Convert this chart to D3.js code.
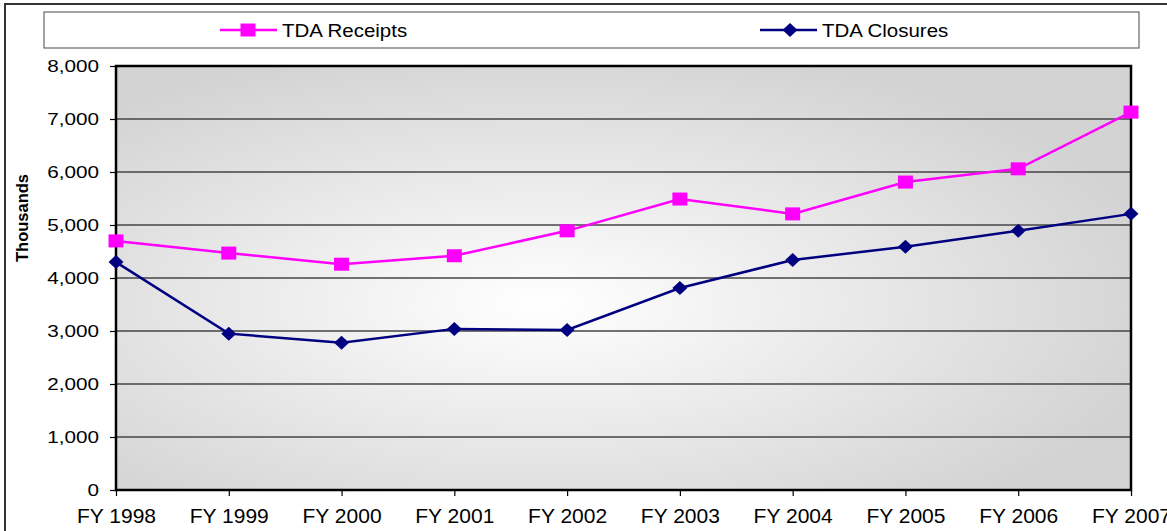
<!DOCTYPE html>
<html>
<head>
<meta charset="utf-8">
<script src="https://cdnjs.cloudflare.com/ajax/libs/d3/7.8.5/d3.min.js"></script>
<style>
  body { margin: 0; background: #fff; }
  svg { display: block; font-family: Arial, "Liberation Sans", sans-serif; }
</style>
</head>
<body>
<div id="chart"></div>
<script>
// chart values
var years = ["FY 1998", "FY 1999", "FY 2000", "FY 2001", "FY 2002",
             "FY 2003", "FY 2004", "FY 2005", "FY 2006", "FY 2007"];
var receipts = [4700, 4470, 4260, 4420, 4890, 5490, 5210, 5810, 6060, 7130];
var closures = [4300, 2950, 2780, 3040, 3020, 3810, 4340, 4590, 4890, 5210];
var yTicks = [0, 1000, 2000, 3000, 4000, 5000, 6000, 7000, 8000];
var seriesNames = ["TDA Receipts", "TDA Closures"];

var W = 1167, H = 531;
var margin = { left: 116, right: 36, top: 66, bottom: 41 },
    width = W - margin.left - margin.right,
    height = H - margin.top - margin.bottom;

var svg = d3.select("#chart").append("svg")
    .attr("width", W)
    .attr("height", H);

// outer chart border (runs off the right and bottom edge)
svg.append("rect")
    .attr("x", 5).attr("y", 4)
    .attr("width", 1300).attr("height", 700)
    .attr("fill", "#fff")
    .attr("stroke", "#333")
    .attr("stroke-width", 2);

// background gradient
var defs = svg.append("defs");
var grad = defs.append("radialGradient")
    .attr("id", "bg")
    .attr("cx", 0.42).attr("cy", 0.56)
    .attr("r", 0.62);
grad.append("stop").attr("offset", "0%").attr("stop-color", "#ffffff");
grad.append("stop").attr("offset", "100%").attr("stop-color", "#d3d3d3");

var g = svg.append("g")
    .attr("transform", "translate(" + margin.left + "," + margin.top + ")");

var x = d3.scalePoint()
    .domain(years)
    .range([0, width]);

var y = d3.scaleLinear()
    .domain([0, 8000])
    .range([height, 0]);

g.append("rect")
    .attr("width", width)
    .attr("height", height)
    .attr("fill", "url(#bg)");

// grid lines
g.selectAll(".grid")
    .data(yTicks.filter(function(d) { return d > 0; }))
    .enter().append("line")
      .attr("class", "grid")
      .attr("x1", 0).attr("x2", width)
      .attr("y1", function(d) { return y(d); })
      .attr("y2", function(d) { return y(d); })
      .attr("stroke", "#444")
      .attr("stroke-width", 1.5);

// plot border
g.append("rect")
    .attr("width", width)
    .attr("height", height)
    .attr("fill", "none")
    .attr("stroke", "#000")
    .attr("stroke-width", 2.5);

// y axis
var ySx = 1.27;
var yAxis = g.append("g")
    .call(d3.axisLeft(y).tickValues(yTicks).tickFormat(d3.format(",")).tickSize(6).tickPadding(11));
yAxis.select(".domain").remove();
yAxis.selectAll(".tick line").attr("stroke", "#000").attr("stroke-width", 1.2);
yAxis.selectAll(".tick text")
    .attr("fill", "#000")
    .style("font-size", "16.3px")
    .attr("x", -17 / ySx)
    .attr("transform", "scale(" + ySx + ",1)");

// x axis
var xSx = 1.09;
var xAxis = g.append("g")
    .attr("transform", "translate(0," + height + ")")
    .call(d3.axisBottom(x).tickSize(6).tickPadding(0));
xAxis.select(".domain").remove();
xAxis.selectAll(".tick line").attr("stroke", "#000").attr("stroke-width", 1.2);
xAxis.selectAll(".tick text")
    .attr("fill", "#000")
    .style("font-size", "19.3px")
    .attr("y", 33)
    .attr("dy", 0)
    .attr("transform", "scale(" + xSx + ",1)");

// y title
svg.append("text")
    .attr("transform", "translate(27.5,218) rotate(-90)")
    .attr("text-anchor", "middle")
    .style("font-size", "16.5px")
    .style("font-weight", "bold")
    .text("Thousands");

// lines
var line = d3.line()
    .x(function(d, i) { return x(years[i]); })
    .y(function(d) { return y(d); });

var colors = ["#ff00ff", "#000080"];

g.append("path")
    .datum(receipts)
    .attr("d", line)
    .attr("fill", "none")
    .attr("stroke", colors[0])
    .attr("stroke-width", 2.5);

g.append("path")
    .datum(closures)
    .attr("d", line)
    .attr("fill", "none")
    .attr("stroke", colors[1])
    .attr("stroke-width", 2.5);

function square(sel, cx, cy) {
  sel.append("rect")
    .attr("x", cx - 7.5).attr("y", cy - 6.5)
    .attr("width", 15).attr("height", 13)
    .attr("fill", colors[0]);
}
function diamond(sel, cx, cy) {
  sel.append("path")
    .attr("d", "M" + (cx - 7.5) + "," + cy + "L" + cx + "," + (cy - 7) +
               "L" + (cx + 7.5) + "," + cy + "L" + cx + "," + (cy + 7) + "Z")
    .attr("fill", colors[1]);
}

receipts.forEach(function(d, i) { square(g, x(years[i]), y(d)); });
closures.forEach(function(d, i) { diamond(g, x(years[i]), y(d)); });

// legend
svg.append("rect")
    .attr("x", 44).attr("y", 12)
    .attr("width", 1095).attr("height", 36)
    .attr("fill", "#fff")
    .attr("stroke", "#666")
    .attr("stroke-width", 1.2);

var legendX = [220, 760];
var lSx = 1.12;
seriesNames.forEach(function(name, i) {
  var lg = svg.append("g");
  lg.append("line")
    .attr("x1", legendX[i]).attr("x2", legendX[i] + 57)
    .attr("y1", 30).attr("y2", 30)
    .attr("stroke", colors[i])
    .attr("stroke-width", 2.5);
  if (i === 0) square(lg, legendX[i] + 28, 30);
  else diamond(lg, legendX[i] + 30, 30);
  lg.append("text")
    .attr("x", (legendX[i] + 62) / lSx)
    .attr("y", 37)
    .attr("transform", "scale(" + lSx + ",1)")
    .style("font-size", "18.3px")
    .text(name);
});
</script>
</body>
</html>
